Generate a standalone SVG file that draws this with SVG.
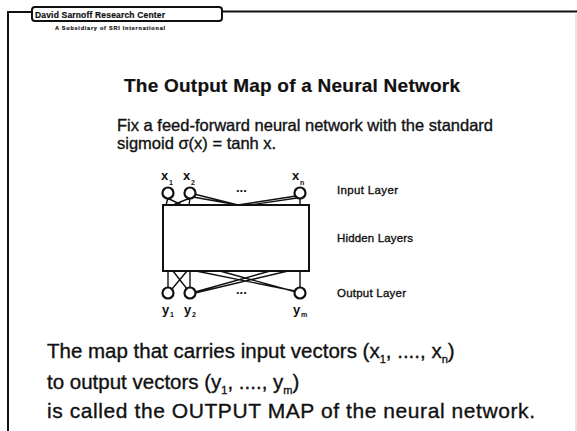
<svg xmlns="http://www.w3.org/2000/svg" width="577" height="431" viewBox="0 0 577 431">
<style>
.t{font-family:"Liberation Sans",Arial,sans-serif;fill:#111;stroke:#111;stroke-width:0.35}
.b{font-weight:bold;stroke-width:0.2}
.frame{fill:none;stroke:#111;stroke-width:2}
.node{fill:#fff;stroke:#111;stroke-width:2.2}
.edge{fill:none;stroke:#111;stroke-width:1.4}
.lbl{font-family:"Liberation Sans",Arial,sans-serif;font-size:11.5px;fill:#111;stroke:#111;stroke-width:0.35}
.var{font-family:"Liberation Sans",Arial,sans-serif;font-weight:bold;fill:#111}
</style>
<rect width="577" height="431" fill="#fff"/>
<g id="frame">
<path class="frame" d="M8,431 V12 H32"/>
<path class="frame" d="M222,11.5 H577"/>
<path d="M576,14 V431" stroke="#ccc" stroke-width="1" fill="none"/>
<rect class="frame" x="32" y="7" width="190" height="14" rx="3"/>
<text class="t b" x="35" y="18" font-size="8.5" textLength="130">David Sarnoff Research Center</text>
<text class="t b" x="55" y="30" font-size="5.5" textLength="110">A Subsidiary of SRI International</text>
</g>
<g id="title">
<text class="t b" x="124" y="92" font-size="19" textLength="336">The Output Map of a Neural Network</text>
</g>
<g id="intro">
<text class="t" x="117" y="131" font-size="16.5">Fix a feed-forward neural network with the standard</text>
<text class="t" x="117" y="149" font-size="16.5">sigmoid σ(x) = tanh x.</text>
</g>
<g id="connectors">
<path class="edge" d="M168,198 L166,205 M167,198 L182,205 M190,198 L173,205 M190,198 L189,205 M193,197 L238,205 M194,194 L238,205 M296,196 L238,205 M297,198 L250,205 M300,198 L300,205"/>
<path class="edge" d="M168,288 L168,271 M172,289 L187,271 M187,289 L173,271 M190,288 L190,271 M195,292 L270,271 M195,293 L288,271 M295,291 L196,271 M296,292 L220,271 M300,288 L300,271"/>
</g>
<g id="hidden">
<rect x="163" y="205" width="146" height="66" fill="#fff" stroke="#111" stroke-width="2"/>
</g>
<g id="in1"><circle class="node" cx="168" cy="193" r="5.5"/><text class="var" x="161" y="180" font-size="13">x</text><text class="var" x="169" y="185" font-size="7">1</text></g>
<g id="in2"><circle class="node" cx="190" cy="193" r="5.5"/><text class="var" x="183" y="180" font-size="13">x</text><text class="var" x="191" y="185" font-size="7">2</text></g>
<g id="inn"><circle class="node" cx="300" cy="193" r="5.5"/><text class="var" x="292" y="180" font-size="13">x</text><text class="var" x="300" y="185" font-size="7">n</text></g>
<g id="out1"><circle class="node" cx="168" cy="293" r="5.5"/><text class="var" x="162" y="314" font-size="13">y</text><text class="var" x="170" y="317" font-size="7">1</text></g>
<g id="out2"><circle class="node" cx="190" cy="293" r="5.5"/><text class="var" x="184" y="314" font-size="13">y</text><text class="var" x="192" y="317" font-size="7">2</text></g>
<g id="outm"><circle class="node" cx="300" cy="293" r="5.5"/><text class="var" x="293" y="314" font-size="13">y</text><text class="var" x="301" y="317" font-size="7">m</text></g>
<g id="dots">
<text class="var" x="236" y="192" font-size="13">...</text>
<text class="var" x="236" y="294" font-size="13">...</text>
</g>
<g id="layer-labels">
<text class="lbl" x="337" y="194" textLength="61">Input Layer</text>
<text class="lbl" x="337" y="242" textLength="76">Hidden Layers</text>
<text class="lbl" x="337" y="297" textLength="69">Output Layer</text>
</g>
<g id="conclusion">
<text class="t" x="47" y="358" font-size="20.5">The map that carries input vectors (x<tspan font-size="11" dy="5">1</tspan><tspan dy="-5">, ...., x</tspan><tspan font-size="11" dy="5">n</tspan><tspan dy="-5">)</tspan></text>
<text class="t" x="47" y="389" font-size="20.5">to output vectors (y<tspan font-size="11" dy="5">1</tspan><tspan dy="-5">, ...., y</tspan><tspan font-size="11" dy="5">m</tspan><tspan dy="-5">)</tspan></text>
<text class="t" x="47" y="418" font-size="21" textLength="488">is called the OUTPUT MAP of the neural network.</text>
</g>
</svg>
